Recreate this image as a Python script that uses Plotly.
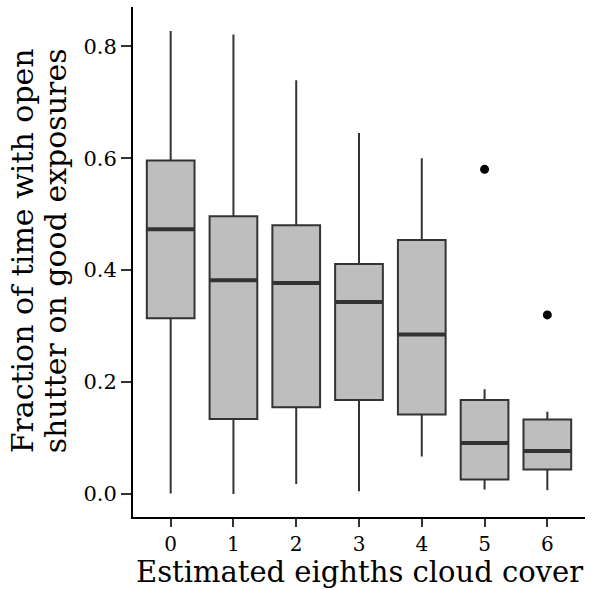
import plotly.graph_objects as go

categories = [0, 1, 2, 3, 4, 5, 6]
tick_labels = ["0", "1", "2", "3", "4", "5", "6"]
lower_whisker = [0.001, 0.000, 0.018, 0.005, 0.067, 0.008, 0.007]
q1_values = [0.314, 0.134, 0.155, 0.168, 0.142, 0.026, 0.044]
median_values = [0.473, 0.382, 0.377, 0.343, 0.285, 0.091, 0.077]
q3_values = [0.596, 0.496, 0.480, 0.411, 0.454, 0.168, 0.133]
upper_whisker = [0.827, 0.821, 0.739, 0.645, 0.600, 0.187, 0.147]
outlier_x = [5, 6]
outlier_y = [0.580, 0.320]

x_title = "Estimated eighths cloud cover"
y_title_lines = ["Fraction of time with open", "shutter on good exposures"]

BOX_W = 0.76
FONT = "DejaVu Serif"

fig = go.Figure()
for i, c in enumerate(categories):
    fig.add_trace(go.Box(
        x=[c], q1=[q1_values[i]], median=[median_values[i]], q3=[q3_values[i]],
        lowerfence=[lower_whisker[i]], upperfence=[upper_whisker[i]],
        width=BOX_W, whiskerwidth=0, boxpoints=False,
        fillcolor="#bebebe", line=dict(color="#333333", width=2),
        showlegend=False, hoverinfo="skip",
    ))

mx, my = [], []
for c, m in zip(categories, median_values):
    mx += [c - BOX_W / 2, c + BOX_W / 2, None]
    my += [m, m, None]
fig.add_trace(go.Scatter(x=mx, y=my, mode="lines",
                         line=dict(color="#333333", width=4),
                         showlegend=False, hoverinfo="skip"))

fig.add_trace(go.Scatter(x=outlier_x, y=outlier_y, mode="markers",
                         marker=dict(color="black", size=9),
                         showlegend=False, hoverinfo="skip"))

fig.update_layout(
    width=599, height=590,
    margin=dict(l=133, r=14, t=7, b=73),
    paper_bgcolor="white", plot_bgcolor="white",
    font=dict(family=FONT, color="black", size=21),
)
fig.update_xaxes(
    range=[-0.6, 6.6], tickmode="array", tickvals=categories, ticktext=tick_labels,
    showline=True, linecolor="black", linewidth=2, showgrid=False, zeroline=False,
    ticks="outside", ticklen=8, tickwidth=2, tickcolor="#333333",
    tickfont=dict(size=20), automargin=False,
)
fig.update_yaxes(
    range=[-0.041, 0.87], tickvals=[0.0, 0.2, 0.4, 0.6, 0.8], tickformat=".1f",
    showline=True, linecolor="black", linewidth=2, showgrid=False, zeroline=False,
    ticks="outside", ticklen=10, tickwidth=2, tickcolor="#333333",
    tickfont=dict(size=21), automargin=False,
)

fig.add_annotation(text=x_title, xref="paper", yref="paper", x=0.5, y=-0.108,
                   xanchor="center", yanchor="middle", showarrow=False,
                   font=dict(size=29))
for xp, line in zip([-0.2425, -0.1695], y_title_lines):
    fig.add_annotation(text=line, xref="paper", yref="paper", x=xp, y=0.5216,
                       xanchor="center", yanchor="middle", showarrow=False,
                       textangle=-90, font=dict(size=30))

fig.write_html("out.html", config={"displayModeBar": False},
               post_script="document.body.style.margin='0';document.body.style.overflow='hidden';")
